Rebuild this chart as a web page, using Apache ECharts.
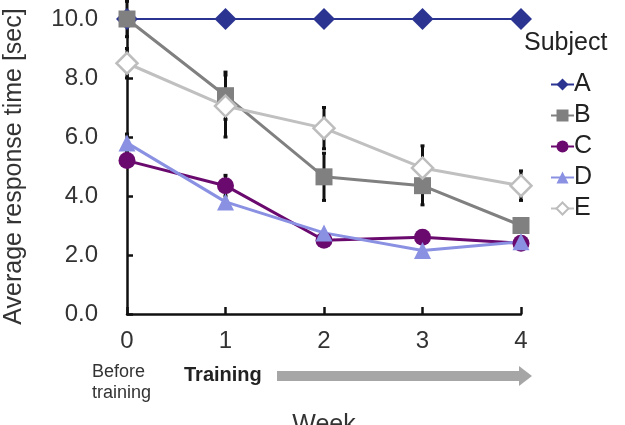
<!DOCTYPE html>
<html>
<head>
<meta charset="utf-8">
<script src="https://cdn.jsdelivr.net/npm/echarts@6/dist/echarts.min.js"></script>
<style>
  html, body { margin: 0; padding: 0; background: #fff; }
  #chart { width: 625px; height: 425px; }
</style>
</head>
<body>
<div id="chart"></div>
<script>
// 周次与各受试者平均反应时间
const weeks = [0, 1, 2, 3, 4]
const subjects = ['A', 'B', 'C', 'D', 'E']
const valuesA = [10.0, 10.0, 10.0, 10.0, 10.0]
const valuesB = [10.0, 7.4, 4.65, 4.35, 3.0]
const valuesC = [5.2, 4.35, 2.5, 2.6, 2.4]
const valuesD = [5.8, 3.8, 2.75, 2.15, 2.45]
const valuesE = [8.5, 7.05, 6.3, 4.95, 4.35]
// 标准差（误差线）
const sdB = [0.6, 0.8, 0.8, 0.65, 0.2]
const sdC = [0, 0.35, 0, 0, 0]
const sdD = [0.3, 0, 0, 0, 0]
const sdE = [0.5, 1.05, 0.7, 0.75, 0.5]
const yTicks = [0, 2, 4, 6, 8, 10]

const FONT = 'Arial, "Liberation Sans", sans-serif'

const toPairs = (vals) => weeks.map((w, i) => [w, vals[i]])

// 误差线数据 [week, low, high]
const errData = []
;[[valuesB, sdB], [valuesC, sdC], [valuesD, sdD], [valuesE, sdE]].forEach(([vals, sd]) => {
  weeks.forEach((w, i) => {
    if (sd[i] > 0) errData.push([w, vals[i] - sd[i], vals[i] + sd[i]])
  })
})

const chart = echarts.init(document.getElementById('chart'))

const lineSeries = (name, vals, color, symbol, size, width, extra = {}) => ({
  name,
  type: 'line',
  data: toPairs(vals),
  symbol,
  symbolSize: size,
  z: 3,
  lineStyle: { color, width },
  itemStyle: { color, opacity: 1 },
  emphasis: { disabled: true },
  ...extra
})

chart.setOption({
  animation: false,
  grid: { left: 127, right: 104, top: 19, bottom: 111, containLabel: false, outerBoundsMode: 'none' },
  legend: {
    orient: 'vertical',
    left: 545,
    top: 67,
    itemWidth: 23,
    itemHeight: 15,
    itemGap: 6,
    data: subjects,
    textStyle: { fontFamily: FONT, fontSize: 25, color: '#222', lineHeight: 25, padding: [0, 0, 0, -5] }
  },
  xAxis: {
    type: 'value',
    min: 0,
    max: 4,
    interval: 1,
    name: 'Week',
    nameLocation: 'middle',
    nameGap: 99,
    nameTextStyle: { fontFamily: FONT, fontSize: 25, color: '#333' },
    axisLine: { show: true, lineStyle: { color: '#111', width: 2.5 } },
    axisTick: { show: true, inside: true, length: 7, lineStyle: { color: '#111', width: 2.5 } },
    axisLabel: { fontFamily: FONT, fontSize: 24, color: '#333', margin: 15 },
    splitLine: { show: false }
  },
  yAxis: {
    type: 'value',
    min: yTicks[0],
    max: yTicks[yTicks.length - 1],
    interval: 2,
    name: 'Average response time [sec]',
    nameLocation: 'middle',
    nameGap: 100,
    nameTextStyle: { fontFamily: FONT, fontSize: 25, color: '#333' },
    axisLine: { show: true, lineStyle: { color: '#111', width: 2.5 } },
    axisTick: { show: true, inside: true, length: 6, lineStyle: { color: '#111', width: 2.5 } },
    axisLabel: { fontFamily: FONT, fontSize: 24, color: '#333', margin: 29, formatter: (v) => v.toFixed(1) },
    splitLine: { show: false }
  },
  series: [
    {
      type: 'custom',
      name: 'err',
      z: 1,
      silent: true,
      data: errData,
      renderItem: (params, api) => {
        const lo = api.coord([api.value(0), api.value(1)])
        const hi = api.coord([api.value(0), api.value(2)])
        const cap = 2
        const style = { stroke: '#111', lineWidth: 3 }
        return {
          type: 'group',
          children: [
            { type: 'line', shape: { x1: lo[0], y1: lo[1], x2: hi[0], y2: hi[1] }, style },
            { type: 'line', shape: { x1: lo[0] - cap, y1: lo[1], x2: lo[0] + cap, y2: lo[1] }, style },
            { type: 'line', shape: { x1: hi[0] - cap, y1: hi[1], x2: hi[0] + cap, y2: hi[1] }, style }
          ]
        }
      }
    },
    lineSeries('A', valuesA, '#2B3591', 'diamond', 22, 2),
    lineSeries('B', valuesB, '#808080', 'rect', 17, 3),
    lineSeries('C', valuesC, '#6B0A6E', 'circle', 17, 3),
    lineSeries('D', valuesD, '#8A90E2', 'triangle', 17, 3),
    lineSeries('E', valuesE, '#C0C0C0', 'diamond', 21, 3, {
      itemStyle: { color: '#fff', borderColor: '#BDBDBD', borderWidth: 2.5, opacity: 1 }
    })
  ],
  graphic: [
    {
      type: 'text', left: 524, top: 31,
      style: { text: 'Subject', font: '25px ' + FONT, fill: '#222' }
    },
    {
      type: 'text', left: 92, top: 362,
      style: { text: 'Before\ntraining', font: '18px ' + FONT, fill: '#333', lineHeight: 21 }
    },
    {
      type: 'text', left: 184, top: 365,
      style: { text: 'Training', font: 'bold 20px ' + FONT, fill: '#222' }
    },
    {
      type: 'rect', shape: { x: 277, y: 371, width: 244, height: 10 },
      style: { fill: '#A6A6A6' }
    },
    {
      type: 'polygon', shape: { points: [[519, 366], [532, 376], [519, 386]] },
      style: { fill: '#A6A6A6' }
    }
  ]
})
</script>
</body>
</html>
